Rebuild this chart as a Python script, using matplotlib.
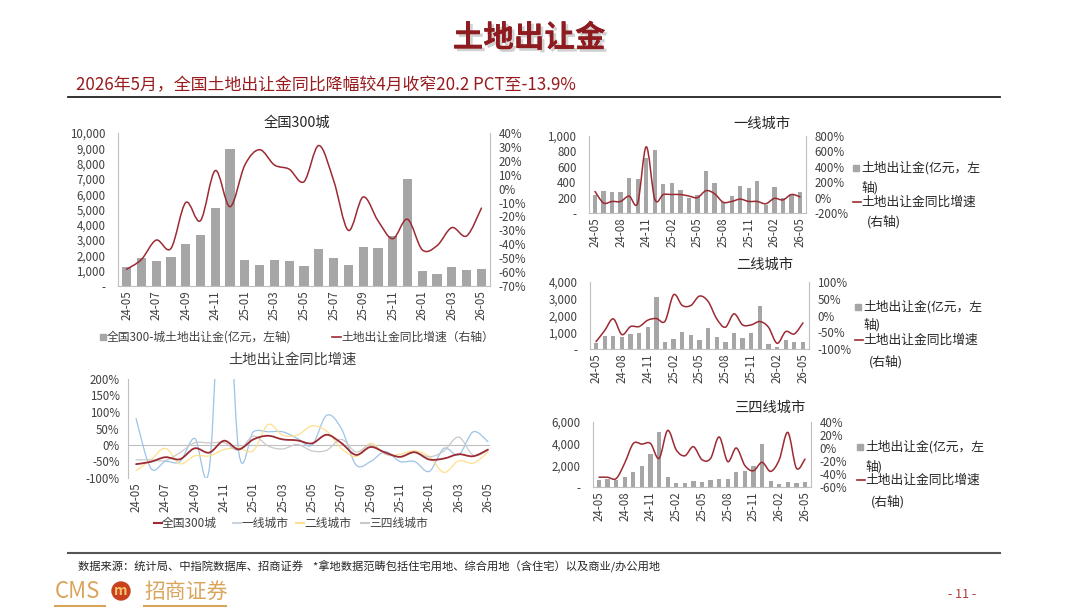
import numpy as np
import matplotlib
matplotlib.use("Agg")
import matplotlib.pyplot as plt
import matplotlib.patheffects as pe
from matplotlib.path import Path
from matplotlib.patches import PathPatch, Rectangle, Ellipse
from matplotlib.lines import Line2D
from matplotlib.ticker import FuncFormatter

plt.rcParams['font.family'] = ['Noto Sans CJK SC', 'DejaVu Sans']
plt.rcParams['axes.unicode_minus'] = False

# 月份
months = ['24-05', '24-06', '24-07', '24-08', '24-09', '24-10', '24-11', '24-12',
          '25-01', '25-02', '25-03', '25-04', '25-05', '25-06', '25-07', '25-08',
          '25-09', '25-10', '25-11', '25-12', '26-01', '26-02', '26-03', '26-04', '26-05']

# 全国300城：土地出让金(亿元) / 同比(%)
nat_amount = [1240, 1830, 1660, 1900, 2730, 3310, 5120, 8980, 1720, 1390, 1680, 1610, 1310,
              2420, 1830, 1350, 2550, 2500, 3250, 6970, 960, 780, 1220, 1070, 1110]
nat_yoy = [-58, -51, -37, -43, -10, -23, 13, -13, 17, 28, 17, 14, 5,
           31, 6, -30, -6, -23, -36, -22, -44, -41, -28, -34, -14]

# 一线城市
t1_amount = [230, 290, 275, 270, 450, 445, 720, 815, 375, 390, 295, 190, 240,
             550, 385, 140, 215, 350, 330, 410, 100, 340, 190, 250, 270]
t1_yoy = [80, -70, -50, -50, 20, -70, 660, -20, 40, 40, 40, 20, 0,
          90, 50, -60, -50, -20, -50, -50, -80, -10, -30, 40, 10]

# 二线城市
t2_amount = [380, 780, 780, 700, 870, 930, 1300, 3100, 420, 580, 1000, 860, 540,
             1250, 700, 420, 940, 680, 950, 2550, 280, 110, 530, 400, 430]
t2_yoy = [-78, -45, -10, -57, -33, -33, -14, -9, -17, 62, 30, 30, 58,
          42, -10, -35, 5, -28, -28, -18, -35, -83, -48, -55, -22]

# 三四线城市
t3_amount = [650, 700, 650, 950, 1400, 1950, 3050, 5050, 900, 400, 380, 570, 500,
             620, 750, 750, 1400, 1500, 1900, 3950, 550, 320, 480, 380, 420]
t3_yoy = [-45, -45, -47, -23, 7, 6, 7, -16, 27, -3, -12, 2, -18,
          -16, 17, -21, 0, -27, -35, -22, -36, -18, 24, -31, -17]

W, H = 1080, 608
RED = '#9C2A33'
GREY = '#A6A6A6'
TXT = '#404040'
SPINE = '#BFBFBF'
GOLD = '#D9A55B'


def rect(l, t, r, b):
    return [l / W, 1 - b / H, (r - l) / W, (b - t) / H]


def fx(x):
    return x / W


def fy(y):
    return 1 - y / H


def smooth_line(ax, x, y, color, lw, zorder=3):
    # Excel风格平滑线（贝塞尔）
    pts = np.column_stack([x, y]).astype(float)
    n = len(pts)
    verts = [pts[0]]
    codes = [Path.MOVETO]
    for i in range(n - 1):
        p0 = pts[i - 1] if i > 0 else pts[i]
        p1, p2 = pts[i], pts[i + 1]
        p3 = pts[i + 2] if i + 2 < n else pts[i + 1]
        verts += [p1 + (p2 - p0) / 6, p2 - (p3 - p1) / 6, p2]
        codes += [Path.CURVE4] * 3
    ax.add_patch(PathPatch(Path(verts, codes), fill=False, edgecolor=color,
                           lw=lw, zorder=zorder, capstyle='round', joinstyle='round'))


def style_axis(ax, ypad=3):
    ax.spines['top'].set_visible(False)
    for s in ['left', 'right', 'bottom']:
        ax.spines[s].set_color(SPINE)
        ax.spines[s].set_linewidth(0.8)
    ax.tick_params(length=0, labelsize=8.3, labelcolor=TXT, pad=3)
    ax.tick_params(axis='y', pad=ypad)


def bar_line_panel(box, amount, yoy, ylim, ystep, y2lim, y2step, every, bar_w, xpad):
    x = np.arange(len(months))
    ax = fig.add_axes(rect(*box))
    ax.bar(x, amount, width=bar_w, color=GREY, zorder=2)
    ax.set_xlim(-xpad, len(months) - 1 + xpad)
    ax.set_ylim(*ylim)
    ax.set_yticks(np.arange(ylim[0], ylim[1] + 1, ystep))
    ax.yaxis.set_major_formatter(FuncFormatter(lambda v, p: '-' if v == 0 else f'{v:,.0f}'))
    ax.set_xticks(x[::every])
    ax.set_xticklabels(months[::every], rotation=90)
    style_axis(ax, ypad=9)
    ax.spines['right'].set_visible(False)
    ax2 = ax.twinx()
    ax2.set_ylim(*y2lim)
    ax2.set_yticks(np.arange(y2lim[0], y2lim[1] + 1, y2step))
    ax2.yaxis.set_major_formatter(FuncFormatter(lambda v, p: f'{v:.0f}%'))
    style_axis(ax2, ypad=6)
    ax2.spines['left'].set_visible(False)
    ax2.spines['bottom'].set_visible(False)
    smooth_line(ax2, x, yoy, RED, 1.1)
    return ax, ax2


def square(x, y, size=6):
    fig.add_artist(Rectangle((fx(x), fy(y + size / 2)), size / W, size / H,
                             color=GREY, transform=fig.transFigure))


def dash(x1, x2, y, color=RED, lw=1.2):
    fig.add_artist(Line2D([fx(x1), fx(x2)], [fy(y), fy(y)], color=color, lw=lw,
                          transform=fig.transFigure))


def side_legend(x, ys):
    square(x, ys[0])
    fig.text(fx(x + 8), fy(ys[0]), '土地出让金(亿元，左', fontsize=9.2, color='#262626', va='center')
    fig.text(fx(x + 8), fy(ys[1]), '轴)', fontsize=9.2, color='#262626', va='center')
    dash(x, x + 8, ys[2])
    fig.text(fx(x + 8), fy(ys[2]), '土地出让金同比增速', fontsize=9.2, color='#262626', va='center')
    fig.text(fx(x + 14), fy(ys[3]), '(右轴)', fontsize=9.2, color='#262626', va='center')


fig = plt.figure(figsize=(10.8, 6.08), dpi=100)

# 标题
fig.text(fx(529), fy(38), '土地出让金', fontsize=22, fontweight='bold', color='#8E1B1F',
         ha='center', va='center',
         path_effects=[pe.withSimplePatchShadow(offset=(2, -2), shadow_rgbFace='#999999', alpha=0.45),
                       pe.Normal()])
fig.text(fx(76), fy(85), '2026年5月，全国土地出让金同比降幅较4月收窄20.2 PCT至-13.9%',
         fontsize=12.2, color='#981B1E', va='center')
fig.add_artist(Line2D([fx(68), fx(1000)], [fy(97), fy(97)], color='#222222', lw=1.3,
                      transform=fig.transFigure))

# 全国300城
bar_line_panel((118, 133, 490, 286), nat_amount, nat_yoy, (0, 10000), 1000,
               (-70, 40), 10, 2, 0.62, 0.58)
fig.text(fx(297), fy(123), '全国300城', fontsize=10.3, color='#262626', ha='center', va='center')
square(100, 337)
fig.text(fx(107), fy(337), '全国300-城土地出让金(亿元，左轴)', fontsize=8.5, color=TXT, va='center')
dash(332, 341, 337)
fig.text(fx(341), fy(337), '土地出让金同比增速（右轴）', fontsize=8.5, color=TXT, va='center')

# 土地出让金同比增速
x = np.arange(len(months))
ax = fig.add_axes(rect(128, 379, 490, 478))
ax.set_xlim(-0.55, len(months) - 1 + 0.14)
ax.set_ylim(-100, 200)
ax.set_yticks(np.arange(-100, 201, 50))
ax.yaxis.set_major_formatter(FuncFormatter(lambda v, p: f'{v:.0f}%'))
ax.set_xticks(x[::2])
ax.set_xticklabels(months[::2], rotation=90)
style_axis(ax, ypad=6)
ax.spines['right'].set_visible(False)
ax.spines['bottom'].set_visible(False)
ax.axhline(0, color=SPINE, lw=0.8, zorder=1)
series = [(t1_yoy, '#9DC3E6'), (t2_yoy, '#FFE08A'), (t3_yoy, '#C9C9C9')]
for vals, col in series:
    smooth_line(ax, x, vals, col, 0.9, zorder=2)
smooth_line(ax, x, nat_yoy, RED, 1.3, zorder=4)
fig.text(fx(292), fy(360), '土地出让金同比增速', fontsize=10.3, color='#404040', ha='center', va='center')
leg_items = [(154, RED, '全国300城'), (233, '#C9D3DD', '一线城市'),
             (296, '#FFE08A', '二线城市'), (361, '#C9C9C9', '三四线城市')]
for lx, col, name in leg_items:
    dash(lx, lx + 8, 523, color=col, lw=1.5)
    fig.text(fx(lx + 8), fy(523), name, fontsize=8.5, color=TXT, va='center')

# 一线城市
bar_line_panel((589, 136, 806, 213), t1_amount, t1_yoy, (0, 1000), 200,
               (-200, 800), 200, 3, 0.5, 0.7)
fig.text(fx(762), fy(124), '一线城市', fontsize=10.3, color='#262626', ha='center', va='center')
side_legend(853, [168, 188, 202, 222])

# 二线城市
bar_line_panel((590, 282, 809, 349), t2_amount, t2_yoy, (0, 4000), 1000,
               (-100, 100), 50, 3, 0.5, 0.7)
fig.text(fx(765), fy(265), '二线城市', fontsize=10.3, color='#262626', ha='center', va='center')
side_legend(855, [307, 325, 340, 362])

# 三四线城市
bar_line_panel((593, 422, 811, 487), t3_amount, t3_yoy, (0, 6000), 2000,
               (-60, 40), 20, 3, 0.5, 0.7)
fig.text(fx(770), fy(408), '三四线城市', fontsize=10.3, color='#262626', ha='center', va='center')
side_legend(857, [447, 467, 480, 502])

# 底部
fig.add_artist(Line2D([fx(68), fx(1000)], [fy(553), fy(553)], color='#555555', lw=1.5,
                      transform=fig.transFigure))
fig.text(fx(78), fy(566), '数据来源：统计局、中指院数据库、招商证券    *拿地数据范畴包括住宅用地、综合用地（含住宅）以及商业/办公用地',
         fontsize=8.1, color='#262626', va='center')
fig.text(fx(55), fy(592), 'CMS', fontsize=16, color=GOLD, va='center')
fig.add_artist(Ellipse((fx(121), fy(591)), 18 / W, 18 / H, color='#C8401E', transform=fig.transFigure))
fig.text(fx(121), fy(591), 'm', fontsize=10, fontweight='bold', color='#F3C56B', ha='center', va='center')
fig.text(fx(144), fy(592), '招商证券', fontsize=15, color=GOLD, va='center')
fig.add_artist(Line2D([fx(55), fx(105)], [fy(606), fy(606)], color=GOLD, lw=1.5, transform=fig.transFigure))
fig.add_artist(Line2D([fx(144), fx(226)], [fy(606), fy(606)], color=GOLD, lw=1.5, transform=fig.transFigure))
fig.text(fx(962), fy(594), '- 11 -', fontsize=9, color='#B03A3A', ha='center', va='center')

fig.savefig('out.png', dpi=100)
